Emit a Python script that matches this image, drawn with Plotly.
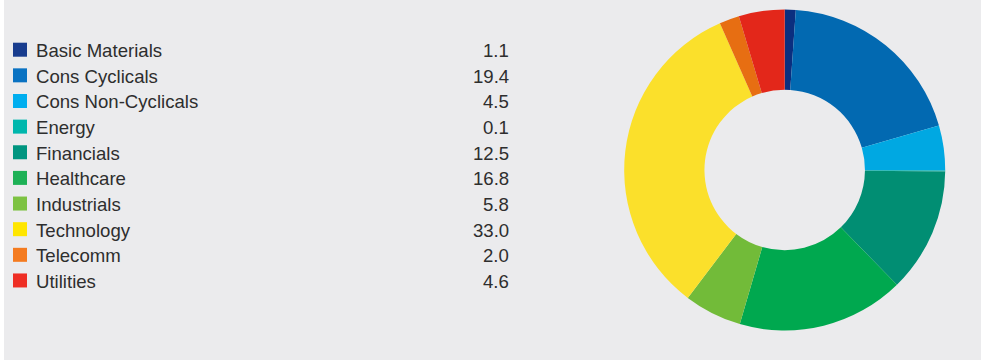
import plotly.graph_objects as go

W, H = 981, 360

sectors = ["Basic Materials", "Cons Cyclicals", "Cons Non-Cyclicals", "Energy",
           "Financials", "Healthcare", "Industrials", "Technology", "Telecomm", "Utilities"]
weights = [1.1, 19.4, 4.5, 0.1, 12.5, 16.8, 5.8, 33.0, 2.0, 4.6]
value_labels = ["1.1", "19.4", "4.5", "0.1", "12.5", "16.8", "5.8", "33.0", "2.0", "4.6"]

slice_colors = ["#0B2F7F", "#0269B1", "#00A8E2", "#00B2A9", "#018E73",
                "#00A84F", "#72BB39", "#FBE02B", "#E76E12", "#E3271A"]
key_colors = ["#183C8E", "#0A72C2", "#00AEEF", "#00B7AD", "#009580",
              "#1DB156", "#7DC242", "#FFE600", "#F47B20", "#EE2E24"]

BG = "#EBEBED"
TEXT = "#2E2E2E"

fig = go.Figure()

cx, cy, r = 784.7, 170.0, 160.5
fig.add_trace(go.Pie(
    labels=sectors, values=weights, sort=False, direction="clockwise", rotation=0,
    hole=0.5, textinfo="none", showlegend=False,
    marker=dict(colors=slice_colors, line=dict(width=0)),
    domain=dict(x=[(cx - r) / W, (cx + r) / W], y=[1 - (cy + r) / H, 1 - (cy - r) / H]),
))

shapes = [dict(type="rect", xref="paper", yref="paper", x0=0, x1=4 / W, y0=0, y1=1,
               fillcolor="white", line=dict(width=0), layer="below")]
annotations = []
row0, step = 49.7, 25.64
for i, (name, val, col) in enumerate(zip(sectors, value_labels, key_colors)):
    yc = row0 + i * step
    shapes.append(dict(type="rect", xref="paper", yref="paper",
                       x0=13 / W, x1=27 / W, y0=1 - (yc + 7) / H, y1=1 - (yc - 7) / H,
                       fillcolor=col, line=dict(width=0)))
    annotations.append(dict(x=34 / W, y=1 - (yc + 1) / H, xref="paper", yref="paper",
                            text=name, showarrow=False, xanchor="left", yanchor="middle",
                            font=dict(family="Liberation Sans, Arial", size=18.6, color=TEXT)))
    annotations.append(dict(x=511 / W, y=1 - (yc + 1) / H, xref="paper", yref="paper",
                            text=val, showarrow=False, xanchor="right", yanchor="middle",
                            font=dict(family="Liberation Sans, Arial", size=18.6, color=TEXT)))

fig.update_layout(
    width=W, height=H, margin=dict(l=0, r=0, t=0, b=0),
    paper_bgcolor=BG, plot_bgcolor=BG,
    shapes=shapes, annotations=annotations,
)

fig.write_html("out.html", config={"displayModeBar": False},
               post_script="document.body.style.margin='0';document.body.style.overflow='hidden';")
